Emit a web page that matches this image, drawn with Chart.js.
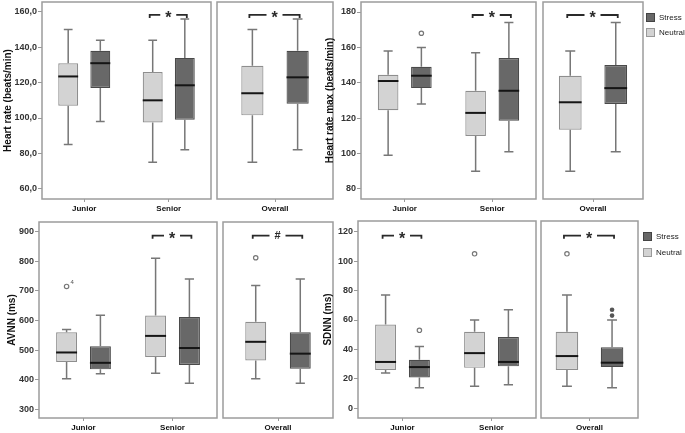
<!DOCTYPE html>
<html>
<head>
<meta charset="utf-8">
<script src="https://cdn.jsdelivr.net/npm/chart.js@4.4.1/dist/chart.umd.min.js"></script>
<style>
  body { margin: 0; background: #fff; width: 685px; height: 433px; position: relative; overflow: hidden;
         font-family: "Liberation Sans", Arial, sans-serif; }
  canvas { position: absolute; }
  .lg { position: absolute; font-size: 8px; color: #222; display: flex; align-items: center; white-space: nowrap; }
  .lg span { display: inline-block; width: 9px; height: 9px; margin-right: 4px; box-sizing: border-box; }
  .st { background: #686868; border: 1px solid #444; }
  .nt { background: #d3d3d3; border: 1px solid #999; }
</style>
</head>
<body>
<canvas id="p1a" style="left:0;top:0" width="214" height="220"></canvas>
<canvas id="p1b" style="left:214px;top:0" width="122" height="220"></canvas>
<canvas id="p2a" style="left:322px;top:0" width="218" height="220"></canvas>
<canvas id="p2b" style="left:540px;top:0" width="105" height="220"></canvas>
<canvas id="p3a" style="left:0;top:215px" width="220" height="218"></canvas>
<canvas id="p3b" style="left:220px;top:215px" width="115" height="218"></canvas>
<canvas id="p4a" style="left:322px;top:215px" width="218" height="218"></canvas>
<canvas id="p4b" style="left:540px;top:215px" width="100" height="218"></canvas>

<div class="lg" style="left:646px;top:13px"><span class="st"></span>Stress</div>
<div class="lg" style="left:646px;top:28px"><span class="nt"></span>Neutral</div>
<div class="lg" style="left:643px;top:232px"><span class="st"></span>Stress</div>
<div class="lg" style="left:643px;top:248px"><span class="nt"></span>Neutral</div>

<script>
// categories
const groups = ['Junior', 'Senior'];
const overall = ['Overall'];

// box stats: [min, q1, median, q3, max]
// Heart rate
const hrNeutral = [[85, 107, 123.5, 131, 150], [75, 97.5, 110, 126, 144]];
const hrStress = [[98, 117, 131, 138, 144], [82, 99, 118.5, 134, 156]];
const hrAllNeutral = [[75, 101.5, 114, 129.5, 150]];
const hrAllStress = [[82, 108, 123, 138, 156]];
const hrTicks = [60, 80, 100, 120, 140, 160];
const hrSig = ['', '*'];
const hrAllSig = ['*'];

// Heart rate max
const hrmNeutral = [[99, 124.5, 141, 144.5, 158], [90, 110, 123, 135.5, 157]];
const hrmStress = [[128, 137, 144, 149, 160], [101, 118.5, 135.5, 154, 174]];
const hrmAllNeutral = [[90, 113.5, 129, 144, 158]];
const hrmAllStress = [[101, 128, 137, 150, 174]];
const hrmStressOut = [[168], []];
const hrmTicks = [80, 100, 120, 140, 160, 180];
const hrmSig = ['', '*'];
const hrmAllSig = ['*'];

// AVNN
const avnnNeutral = [[403, 460, 492, 560, 570], [422, 477, 548, 617, 810]];
const avnnStress = [[420, 435, 457, 513, 618], [388, 450, 507, 612, 740]];
const avnnAllNeutral = [[403, 465, 528, 596, 718]];
const avnnAllStress = [[388, 437, 488, 560, 740]];
const avnnNeutralOut = [[715], []];
const avnnNeutralOutIds = [['4'], []];
const avnnAllNeutralOut = [[812]];
const avnnTicks = [300, 400, 500, 600, 700, 800, 900];
const avnnSig = ['', '*'];
const avnnAllSig = ['#'];

// SDNN
const sdnnNeutral = [[24, 26, 31.5, 57, 77], [15, 27.5, 37.5, 52, 60]];
const sdnnStress = [[14, 21, 28, 33, 42], [16, 28.5, 31.5, 48.5, 67]];
const sdnnAllNeutral = [[15, 26, 35.5, 52, 77]];
const sdnnAllStress = [[14, 28, 31, 41.5, 60]];
const sdnnNeutralOut = [[], [105]];
const sdnnStressOut = [[53], []];
const sdnnAllNeutralOut = [[105]];
const sdnnAllStressExtreme = [[63, 67]];
const sdnnTicks = [0, 20, 40, 60, 80, 100, 120];
const sdnnSig = ['*', ''];
const sdnnAllSig = ['*'];

const LIGHT = '#d3d3d3', LIGHT_EDGE = '#8e8e8e';
const DARK = '#686868', DARK_EDGE = '#4a4a4a';

const boxPlugin = {
    id: 'boxExtras',
    afterDatasetsDraw(chart, args, opts) {
        const ctx = chart.ctx;
        const y = chart.scales.y;
        const area = chart.chartArea;
        ctx.save();
        chart.data.datasets.forEach((ds, i) => {
            const meta = chart.getDatasetMeta(i);
            meta.data.forEach((bar, j) => {
                const s = ds.stats[j];
                const x = bar.x, half = bar.width / 2, cap = bar.width * 0.22;
                const yMin = y.getPixelForValue(s[0]), yQ1 = y.getPixelForValue(s[1]);
                const yMed = y.getPixelForValue(s[2]), yQ3 = y.getPixelForValue(s[3]);
                const yMax = y.getPixelForValue(s[4]);
                ctx.strokeStyle = '#777';
                ctx.lineWidth = 1.5;
                ctx.beginPath();
                ctx.moveTo(x, yQ3); ctx.lineTo(x, yMax);
                ctx.moveTo(x, yQ1); ctx.lineTo(x, yMin);
                ctx.moveTo(x - cap, yMax); ctx.lineTo(x + cap, yMax);
                ctx.moveTo(x - cap, yMin); ctx.lineTo(x + cap, yMin);
                ctx.stroke();
                ctx.strokeStyle = '#151515';
                ctx.lineWidth = 2;
                ctx.beginPath();
                ctx.moveTo(x - half, yMed); ctx.lineTo(x + half, yMed);
                ctx.stroke();
                (ds.outliers && ds.outliers[j] || []).forEach((v, k) => {
                    const py = y.getPixelForValue(v);
                    ctx.strokeStyle = '#777';
                    ctx.lineWidth = 1.2;
                    ctx.beginPath();
                    ctx.arc(x, py, 2.2, 0, Math.PI * 2);
                    ctx.stroke();
                    const id = ds.outlierIds && ds.outlierIds[j] && ds.outlierIds[j][k];
                    if (id) {
                        ctx.fillStyle = '#555';
                        ctx.font = '6px "Liberation Sans"';
                        ctx.textAlign = 'left';
                        ctx.textBaseline = 'middle';
                        ctx.fillText(id, x + 4, py - 4);
                    }
                });
                (ds.extremes && ds.extremes[j] || []).forEach(v => {
                    ctx.fillStyle = '#555';
                    ctx.beginPath();
                    ctx.arc(x, y.getPixelForValue(v), 2.3, 0, Math.PI * 2);
                    ctx.fill();
                });
            });
        });

        ctx.strokeStyle = '#9c9c9c';
        ctx.lineWidth = 1.5;
        ctx.strokeRect(area.left, area.top, area.right - area.left, area.bottom - area.top);

        (opts.sig || []).forEach((mark, j) => {
            if (!mark) return;
            const x1 = chart.getDatasetMeta(0).data[j].x - 3;
            const x2 = chart.getDatasetMeta(1).data[j].x + 2;
            const yy = y.getPixelForValue(opts.sigAt);
            const mid = (x1 + x2) / 2;
            ctx.strokeStyle = '#2a2a2a';
            ctx.lineWidth = 1.8;
            ctx.beginPath();
            ctx.moveTo(x1, yy + 3); ctx.lineTo(x1, yy); ctx.lineTo(mid - 8, yy);
            ctx.moveTo(mid + 8, yy); ctx.lineTo(x2, yy); ctx.lineTo(x2, yy + 3);
            ctx.stroke();
            ctx.fillStyle = '#2a2a2a';
            ctx.textAlign = 'center';
            ctx.textBaseline = 'middle';
            if (mark === '*') {
                ctx.font = 'bold 16px "Liberation Sans"';
                ctx.fillText(mark, mid, yy + 4);
            } else {
                ctx.font = 'bold 11px "Liberation Sans"';
                ctx.fillText(mark, mid, yy);
            }
        });
        ctx.restore();
    }
};

function boxChart(id, cfg) {
    new Chart(document.getElementById(id), {
        type: 'bar',
        data: {
            labels: cfg.labels,
            datasets: [
                {
                    label: 'Neutral',
                    data: cfg.neutral.map(s => [s[1], s[3]]),
                    stats: cfg.neutral,
                    outliers: cfg.neutralOut,
                    outlierIds: cfg.neutralOutIds,
                    backgroundColor: LIGHT,
                    borderColor: LIGHT_EDGE,
                    borderWidth: 1.2,
                    borderSkipped: false,
                    categoryPercentage: cfg.catPct,
                    barPercentage: cfg.barPct
                },
                {
                    label: 'Stress',
                    data: cfg.stress.map(s => [s[1], s[3]]),
                    stats: cfg.stress,
                    outliers: cfg.stressOut,
                    extremes: cfg.stressExt,
                    backgroundColor: DARK,
                    borderColor: DARK_EDGE,
                    borderWidth: 1.2,
                    borderSkipped: false,
                    categoryPercentage: cfg.catPct,
                    barPercentage: cfg.barPct
                }
            ]
        },
        options: {
            responsive: false,
            animation: false,
            events: [],
            layout: { padding: cfg.pad },
            plugins: {
                legend: { display: false },
                tooltip: { enabled: false },
                boxExtras: { sig: cfg.sig, sigAt: cfg.sigAt }
            },
            scales: {
                x: {
                    afterFit: s => { s.height = cfg.xh; s.paddingLeft = 0; s.paddingRight = 0; },
                    grid: { display: true, offset: false, drawOnChartArea: false, tickLength: 3, color: '#999' },
                    border: { display: false },
                    ticks: { padding: 2, color: '#111', font: { family: 'Liberation Sans', size: 8, weight: 'bold' } }
                },
                y: {
                    display: cfg.yAxis,
                    min: cfg.yMin,
                    max: cfg.yMax,
                    afterFit: s => { s.width = cfg.yw; s.paddingTop = 0; s.paddingBottom = 0; },
                    afterBuildTicks: s => { s.ticks = cfg.ticks.map(v => ({ value: v })); },
                    grid: { drawOnChartArea: false, tickLength: 4, color: '#999' },
                    border: { display: false },
                    ticks: {
                        padding: 1,
                        color: '#333',
                        font: { family: 'Liberation Sans', size: 9, weight: 'bold' },
                        callback: cfg.fmt || (v => v)
                    },
                    title: {
                        display: !!cfg.title,
                        text: cfg.title,
                        color: '#111',
                        padding: { top: cfg.titlePad || 0, bottom: 0 },
                        font: { family: 'Liberation Sans', size: 10, weight: 'bold' }
                    }
                }
            }
        },
        plugins: [boxPlugin]
    });
}

const comma = v => v.toFixed(1).replace('.', ',');

// Heart rate
boxChart('p1a', { labels: groups, neutral: hrNeutral, stress: hrStress, ticks: hrTicks, fmt: comma,
    yAxis: true, yMin: 54.2, yMax: 165.6, yw: 42, xh: 21, pad: { left: 0, top: 2, right: 3, bottom: 0 },
    title: 'Heart rate (beats/min)', titlePad: 2, catPct: 0.76, barPct: 0.62, sig: hrSig, sigAt: 158.3 });
boxChart('p1b', { labels: overall, neutral: hrAllNeutral, stress: hrAllStress, ticks: hrTicks,
    yAxis: false, yMin: 54.2, yMax: 165.6, yw: 0, xh: 21, pad: { left: 3, top: 2, right: 3, bottom: 0 },
    catPct: 0.78, barPct: 0.49, sig: hrAllSig, sigAt: 158.3 });

// Heart rate max
boxChart('p2a', { labels: groups, neutral: hrmNeutral, stress: hrmStress, stressOut: hrmStressOut, ticks: hrmTicks,
    yAxis: true, yMin: 74.35, yMax: 185.65, yw: 39, xh: 21, pad: { left: 0, top: 2, right: 4, bottom: 0 },
    title: 'Heart rate max (beats/min)', titlePad: 2, catPct: 0.76, barPct: 0.62, sig: hrmSig, sigAt: 178.3 });
boxChart('p2b', { labels: overall, neutral: hrmAllNeutral, stress: hrmAllStress, ticks: hrmTicks,
    yAxis: false, yMin: 74.35, yMax: 185.65, yw: 0, xh: 21, pad: { left: 3, top: 2, right: 2, bottom: 0 },
    catPct: 0.91, barPct: 0.5, sig: hrmAllSig, sigAt: 178.3 });

// AVNN
boxChart('p3a', { labels: groups, neutral: avnnNeutral, stress: avnnStress, neutralOut: avnnNeutralOut,
    neutralOutIds: avnnNeutralOutIds, ticks: avnnTicks,
    yAxis: true, yMin: 270.6, yMax: 932.8, yw: 39, xh: 15, pad: { left: 0, top: 7, right: 3, bottom: 0 },
    title: 'AVNN (ms)', titlePad: 6, catPct: 0.76, barPct: 0.62, sig: avnnSig, sigAt: 886.5 });
boxChart('p3b', { labels: overall, neutral: avnnAllNeutral, stress: avnnAllStress, neutralOut: avnnAllNeutralOut,
    ticks: avnnTicks,
    yAxis: false, yMin: 270.6, yMax: 932.8, yw: 0, xh: 15, pad: { left: 3, top: 7, right: 2, bottom: 0 },
    catPct: 0.81, barPct: 0.47, sig: avnnAllSig, sigAt: 886.5 });

// SDNN
boxChart('p4a', { labels: groups, neutral: sdnnNeutral, stress: sdnnStress, neutralOut: sdnnNeutralOut,
    stressOut: sdnnStressOut, ticks: sdnnTicks,
    yAxis: true, yMin: -6.6, yMax: 127.3, yw: 36, xh: 15, pad: { left: 0, top: 6, right: 4, bottom: 0 },
    title: 'SDNN (ms)', titlePad: 0, catPct: 0.76, barPct: 0.62, sig: sdnnSig, sigAt: 117.3 });
boxChart('p4b', { labels: overall, neutral: sdnnAllNeutral, stress: sdnnAllStress, neutralOut: sdnnAllNeutralOut,
    stressExt: sdnnAllStressExtreme, ticks: sdnnTicks,
    yAxis: false, yMin: -6.6, yMax: 127.3, yw: 0, xh: 15, pad: { left: 1, top: 6, right: 2, bottom: 0 },
    catPct: 0.93, barPct: 0.5, sig: sdnnAllSig, sigAt: 117.3 });
</script>
</body>
</html>
